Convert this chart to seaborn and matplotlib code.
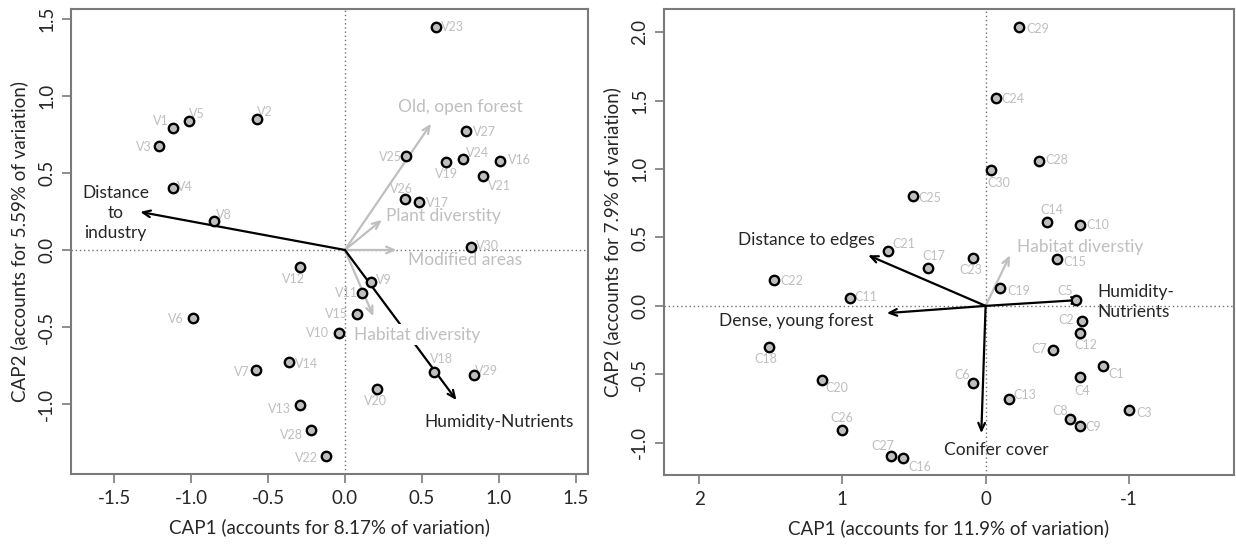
import matplotlib
matplotlib.use("Agg")
import matplotlib.pyplot as plt
import seaborn as sns
import pandas as pd

# ---------------- data ----------------
v_names = ["V1", "V2", "V3", "V4", "V5", "V6", "V7", "V8", "V9", "V10",
           "V11", "V12", "V13", "V14", "V15", "V16", "V17", "V18", "V19", "V20",
           "V21", "V22", "V23", "V24", "V25", "V26", "V27", "V28", "V29", "V30"]
v_cap1 = [-1.12, -0.57, -1.21, -1.12, -1.01, -0.99, -0.58, -0.85, 0.17, -0.04,
          0.11, -0.29, -0.29, -0.36, 0.076, 1.01, 0.48, 0.58, 0.66, 0.21,
          0.90, -0.12, 0.59, 0.77, 0.40, 0.39, 0.79, -0.22, 0.84, 0.82]
v_cap2 = [0.79, 0.85, 0.675, 0.40, 0.84, -0.44, -0.78, 0.19, -0.21, -0.54,
          -0.28, -0.11, -1.01, -0.73, -0.415, 0.58, 0.31, -0.79, 0.57, -0.905,
          0.48, -1.34, 1.45, 0.59, 0.61, 0.33, 0.77, -1.17, -0.81, 0.02]

v_vec_names = ["Distance\nto\nindustry", "Humidity-Nutrients", "Old, open forest",
               "Plant diverstity", "Modified areas", "Habitat diversity"]
v_vec_x = [-1.33, 0.725, 0.56, 0.24, 0.335, 0.185]
v_vec_y = [0.247, -0.975, 0.82, 0.195, 0.0, -0.43]
v_vec_signif = [True, True, False, False, False, False]

c_names = ["C1", "C2", "C3", "C4", "C5", "C6", "C7", "C8", "C9", "C10",
           "C11", "C12", "C13", "C14", "C15", "C16", "C17", "C18", "C19", "C20",
           "C21", "C22", "C23", "C24", "C25", "C26", "C27", "C28", "C29", "C30"]
c_cap1 = [-0.82, -0.67, -1.00, -0.66, -0.63, 0.09, -0.47, -0.59, -0.66, -0.66,
          0.95, -0.66, -0.16, -0.43, -0.50, 0.58, 0.40, 1.51, -0.10, 1.14,
          0.68, 1.48, 0.09, -0.07, 0.51, 1.00, 0.66, -0.37, -0.23, -0.04]
c_cap2 = [-0.44, -0.11, -0.76, -0.52, 0.04, -0.56, -0.32, -0.83, -0.88, 0.59,
          0.056, -0.20, -0.68, 0.61, 0.34, -1.11, 0.28, -0.30, 0.13, -0.54,
          0.40, 0.19, 0.35, 1.52, 0.805, -0.91, -1.10, 1.06, 2.04, 0.99]

c_vec_names = ["Distance to edges", "Dense, young forest", "Conifer cover",
               "Humidity-\nNutrients", "Habitat diverstiy"]
c_vec_x = [0.82, 0.69, 0.03, -0.67, -0.17]
c_vec_y = [0.37, -0.053, -0.93, 0.044, 0.37]
c_vec_signif = [True, True, True, True, False]

# ---------------- layout (label offsets in pixels, dx, dy-up) ----------------
v_lab_off = {"V1": (-12, 7), "V2": (8, 7), "V3": (-15, -1), "V4": (12, 1), "V5": (7, 7),
             "V6": (-17, -1), "V7": (-14, -2), "V8": (10, 6), "V9": (13, 2), "V10": (-21, 0),
             "V11": (-15, 0), "V12": (-7, -12), "V13": (-21, -4), "V14": (17, -2), "V15": (-20, 0),
             "V16": (19, 1), "V17": (19, -1), "V18": (7, 13), "V19": (0, -12), "V20": (-2, -12),
             "V21": (16, -10), "V22": (-20, -2), "V23": (17, 0), "V24": (14, 6), "V25": (-16, -1),
             "V26": (-3, 10), "V27": (18, -1), "V28": (-20, -5), "V29": (12, 4), "V30": (16, 1)}
c_lab_off = {"C1": (13, -8), "C2": (-15, 1), "C3": (15, -3), "C4": (2, -14), "C5": (-11, 9),
             "C6": (-11, 8), "C7": (-14, 1), "C8": (-10, 8), "C9": (13, -1), "C10": (18, 0),
             "C11": (16, 1), "C12": (6, -12), "C13": (16, 4), "C14": (5, 12), "C15": (18, -3),
             "C16": (17, -9), "C17": (6, 12), "C18": (-3, -12), "C19": (19, -3), "C20": (15, -8),
             "C21": (16, 7), "C22": (18, -1), "C23": (-2, -12), "C24": (17, -1), "C25": (17, -2),
             "C26": (-1, 12), "C27": (-8, 10), "C28": (18, 1), "C29": (19, -2), "C30": (7, -13)}
v_vec_lab = [(-1.49, 0.24, "center"), (1.0, -1.12, "center"), (0.75, 0.93, "center"),
             (0.64, 0.22, "center"), (0.78, -0.065, "center"), (0.47, -0.55, "center")]
c_vec_lab = [(1.25, 0.48, "center"), (1.32, -0.107, "center"), (-0.075, -1.05, "center"),
             (-0.78, 0.03, "left"), (-0.66, 0.43, "center")]

# ---------------- style ----------------
sns.set_theme(style="white")
plt.rcParams["font.family"] = ["Lato", "DejaVu Sans"]
GREY_TXT = "#bfbfbf"
FRAME = "#7a7a7a"
DARK = "#262626"
PX = 0.72  # points per pixel at dpi 100

fig = plt.figure(figsize=(12.36, 5.47), dpi=100)
axL = fig.add_axes([71 / 1236, 1 - 474 / 547, (588 - 71) / 1236, (474 - 9) / 547])
axR = fig.add_axes([664 / 1236, 1 - 475 / 547, (1234 - 664) / 1236, (475 - 9) / 547])


def draw_panel(ax, names, x, y, offs, vnames, vx, vy, vsig, vlab, xlim, ylim,
               xticks, yticks, xlabel, ylabel, xticklabels, arrow_lab_bbox=None):
    ax.set_xlim(*xlim)
    ax.set_ylim(*ylim)
    ax.axhline(0, color="#707070", lw=1.0, ls=(0, (1, 2)), zorder=1)
    ax.axvline(0, color="#707070", lw=1.0, ls=(0, (1, 2)), zorder=1)
    for i, (nm, ex, ey, sig) in enumerate(zip(vnames, vx, vy, vsig)):
        col = "black" if sig else GREY_TXT
        ax.annotate("", xy=(ex, ey), xytext=(0, 0),
                    arrowprops=dict(arrowstyle="->,head_length=0.45,head_width=0.2",
                                    color=col, lw=1.6, shrinkA=0, shrinkB=0),
                    zorder=2 if sig else 1.5)
        lx, ly, ha = vlab[i]
        kw = {}
        if arrow_lab_bbox is not None and nm == arrow_lab_bbox:
            kw["bbox"] = dict(facecolor="white", edgecolor="none", pad=2)
        ax.text(lx, ly, nm, color=(DARK if sig else GREY_TXT), fontsize=12.5,
                ha=ha, va="center", multialignment=ha, linespacing=1.3, zorder=3, **kw)
    df = pd.DataFrame({"x": x, "y": y, "name": names})
    sns.scatterplot(data=df, x="x", y="y", ax=ax, s=46, color="#bebebe",
                    edgecolor="black", linewidth=1.7, zorder=5, legend=False)
    for nm, px_, py_ in zip(names, x, y):
        dx, dy = offs[nm]
        ax.annotate(nm, xy=(px_, py_), xytext=(dx * PX, dy * PX), textcoords="offset points",
                    ha="center", va="center", fontsize=9, color=GREY_TXT, zorder=4)
    ax.set_xticks(xticks)
    ax.set_xticklabels(xticklabels)
    ax.set_yticks(yticks)
    ax.set_yticklabels([f"{t:.1f}" for t in yticks], rotation=90, va="center")
    ax.set_xlabel(xlabel, fontsize=13.5, color=DARK, labelpad=8)
    ax.set_ylabel(ylabel, fontsize=13.5, color=DARK, labelpad=7)
    for sp in ax.spines.values():
        sp.set_color(FRAME)
        sp.set_linewidth(1.5)
    ax.tick_params(axis="both", direction="out", length=6.5, width=1.2, color=FRAME,
                   labelsize=13.5, labelcolor=DARK, pad=5, left=True, bottom=True)
    ax.grid(False)


draw_panel(axL, v_names, v_cap1, v_cap2, v_lab_off, v_vec_names, v_vec_x, v_vec_y,
           v_vec_signif, v_vec_lab, (-1.78, 1.58), (-1.455, 1.565),
           [-1.5, -1.0, -0.5, 0.0, 0.5, 1.0, 1.5], [-1.0, -0.5, 0.0, 0.5, 1.0, 1.5],
           "CAP1 (accounts for 8.17% of variation)", "CAP2 (accounts for 5.59% of variation)",
           ["-1.5", "-1.0", "-0.5", "0.0", "0.5", "1.0", "1.5"],
           arrow_lab_bbox="Habitat diversity")
draw_panel(axR, c_names, c_cap1, c_cap2, c_lab_off, c_vec_names, c_vec_x, c_vec_y,
           c_vec_signif, c_vec_lab, (2.245, -1.734), (-1.236, 2.17),
           [2, 1, 0, -1], [-1.0, -0.5, 0.0, 0.5, 1.0, 1.5, 2.0],
           "CAP1 (accounts for 11.9% of variation)", "CAP2 (accounts for 7.9% of variation)",
           ["2", "1", "0", "-1"])

fig.savefig("out.png", dpi=100)
